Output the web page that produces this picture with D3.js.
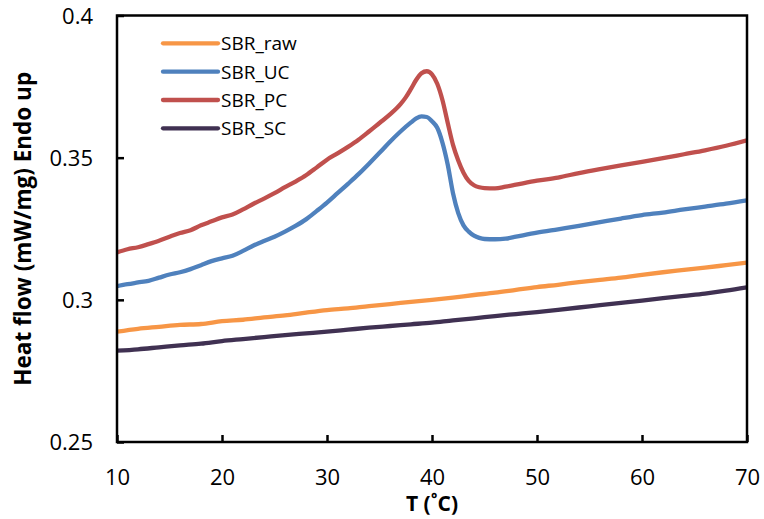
<!DOCTYPE html>
<html>
<head>
<meta charset="utf-8">
<script src="https://cdn.jsdelivr.net/npm/d3@7"></script>
<style>
  html, body { margin: 0; padding: 0; background: #fff; }
  svg { display: block; }
  text { font-family: "Open Sans", "Liberation Sans", sans-serif; fill: #000; }
</style>
</head>
<body>
<svg id="chart" width="764" height="519"></svg>
<script>
// ---- data ----
const seriesNames = ["SBR_raw", "SBR_UC", "SBR_PC", "SBR_SC"];
const seriesColors = ["#F79646", "#4F81BD", "#C0504D", "#403152"];

const tRaw = [10,12,14,16,18,20,22,24,26,28,30,32,34,36,38,40,42,44,46,48,50,52,54,56,58,60,62,64,66,68,70];
const hfRaw = [0.2888,0.2898,0.2905,0.2912,0.2915,0.2925,0.2930,0.2938,0.2945,0.2955,0.2964,0.2970,0.2978,0.2985,0.2993,0.3000,0.3008,0.3017,0.3025,0.3035,0.3045,0.3053,0.3062,0.3070,0.3078,0.3088,0.3097,0.3105,0.3113,0.3122,0.3131];

const tSC = tRaw;
const hfSC = [0.2821,0.2826,0.2833,0.2840,0.2846,0.2855,0.2862,0.2869,0.2876,0.2882,0.2888,0.2895,0.2902,0.2908,0.2914,0.2920,0.2928,0.2935,0.2943,0.2950,0.2957,0.2965,0.2973,0.2981,0.2989,0.2997,0.3006,0.3014,0.3022,0.3032,0.3044];

const tUC = [10,11,12,13,14,15,16,17,18,19,20,21,22,23,24,25,26,27,28,29,30,31,32,33,34,35,36,37,38,38.5,39,39.5,40,40.5,41,41.5,42,42.5,43,43.5,44,44.5,45,46,47,48,50,52,54,56,58,60,62,64,66,68,70];
const hfUC = [0.3048,0.3055,0.3061,0.3067,0.3078,0.3089,0.3097,0.3108,0.3122,0.3136,0.3146,0.3155,0.3172,0.3191,0.3207,0.3222,0.3240,0.3260,0.3283,0.3312,0.3342,0.3375,0.3408,0.3442,0.3479,0.3517,0.3556,0.3592,0.3624,0.3638,0.3645,0.3643,0.3628,0.3605,0.3552,0.3475,0.3375,0.3305,0.3262,0.3240,0.3226,0.3218,0.3214,0.3213,0.3215,0.3222,0.3236,0.3248,0.3260,0.3273,0.3286,0.3298,0.3307,0.3318,0.3328,0.3338,0.3350];

const tPC = [10,11,12,13,14,15,16,17,18,19,20,21,22,23,24,25,26,27,28,29,30,31,32,33,34,35,36,37,37.5,38,38.5,39,39.5,40,40.5,41,41.5,42,42.5,43,43.5,44,44.5,45,46,47,48,50,52,54,56,58,60,62,64,66,68,70];
const hfPC = [0.3167,0.3178,0.3185,0.3196,0.3208,0.3222,0.3235,0.3245,0.3262,0.3276,0.3290,0.3300,0.3318,0.3338,0.3356,0.3375,0.3396,0.3416,0.3438,0.3465,0.3493,0.3515,0.3538,0.3563,0.3592,0.3622,0.3652,0.3688,0.3712,0.3742,0.3774,0.3797,0.3804,0.3793,0.3760,0.3702,0.3622,0.3545,0.3490,0.3447,0.3418,0.3403,0.3396,0.3393,0.3392,0.3398,0.3405,0.3419,0.3430,0.3446,0.3460,0.3473,0.3485,0.3498,0.3512,0.3526,0.3542,0.3561];

const xTicks = [10,20,30,40,50,60,70];
const yTicks = [0.25,0.3,0.35,0.4];
const xTitle = "T (\u02DAC)";
const yTitle = "Heat flow (mW/mg) Endo up";

// ---- chart ----
const svg = d3.select("#chart");
const L = 117, R = 747, T = 15.5, B = 442;

const x = d3.scaleLinear().domain([10, 70]).range([L, R]);
const y = d3.scaleLinear().domain([0.25, 0.4]).range([B, T]);

const series = [
  { name: seriesNames[0], color: seriesColors[0], t: tRaw, v: hfRaw },
  { name: seriesNames[1], color: seriesColors[1], t: tUC, v: hfUC },
  { name: seriesNames[2], color: seriesColors[2], t: tPC, v: hfPC },
  { name: seriesNames[3], color: seriesColors[3], t: tSC, v: hfSC }
];

const line = d3.line()
  .x(d => x(d[0]))
  .y(d => y(d[1]))
  .curve(d3.curveMonotoneX);

svg.append("clipPath").attr("id", "plotclip")
  .append("rect").attr("x", L).attr("y", T).attr("width", R - L).attr("height", B - T);

const g = svg.append("g").attr("clip-path", "url(#plotclip)");
series.forEach(s => {
  g.append("path")
    .datum(s.t.map((t, i) => [t, s.v[i]]))
    .attr("fill", "none")
    .attr("stroke", s.color)
    .attr("stroke-width", 4.3)
    .attr("stroke-linejoin", "round")
    .attr("stroke-linecap", "round")
    .attr("d", line);
});

// frame
svg.append("rect")
  .attr("x", L).attr("y", T).attr("width", R - L).attr("height", B - T)
  .attr("fill", "none").attr("stroke", "#000").attr("stroke-width", 2.5);

// axes with inward ticks
const xAxis = d3.axisBottom(x).tickValues(xTicks).tickSizeInner(-7).tickSizeOuter(0).tickPadding(24).tickFormat(d3.format("d"));
const yAxis = d3.axisLeft(y).tickValues(yTicks).tickSizeInner(-7).tickSizeOuter(0).tickPadding(24).tickFormat(d => String(d));

const gx = svg.append("g").attr("transform", `translate(0,${B})`).call(xAxis);
const gy = svg.append("g").attr("transform", `translate(${L},0)`).call(yAxis);
[gx, gy].forEach(a => {
  a.select(".domain").remove();
  a.selectAll(".tick line").attr("stroke", "#000").attr("stroke-width", 2.5);
  a.selectAll(".tick text").attr("font-size", 22).attr("font-family", "'Open Sans', sans-serif").attr("fill", "#000");
});
gx.selectAll(".tick text").attr("dy", null).attr("y", 43);
gy.selectAll(".tick text").attr("x", -24).attr("dy", "0.36em");

// titles
svg.append("text")
  .attr("x", (L + R) / 2).attr("y", 511)
  .attr("text-anchor", "middle")
  .attr("font-size", 21).attr("font-weight", "bold")
  .text(xTitle);

svg.append("text")
  .attr("transform", `translate(31,${(T + B) / 2}) rotate(-90)`)
  .attr("text-anchor", "middle")
  .attr("font-size", 22.5).attr("font-weight", "bold")
  .text(yTitle);

// legend
const legY = [43.3, 71.7, 100, 128.3];
const leg = svg.append("g");
series.forEach((s, i) => {
  leg.append("line")
    .attr("x1", 163).attr("x2", 218)
    .attr("y1", legY[i]).attr("y2", legY[i])
    .attr("stroke", s.color).attr("stroke-width", 4.3).attr("stroke-linecap", "round");
  leg.append("text")
    .attr("x", 221).attr("y", legY[i])
    .attr("dy", "0.36em")
    .attr("font-size", 19)
    .text(s.name);
});
</script>
</body>
</html>
